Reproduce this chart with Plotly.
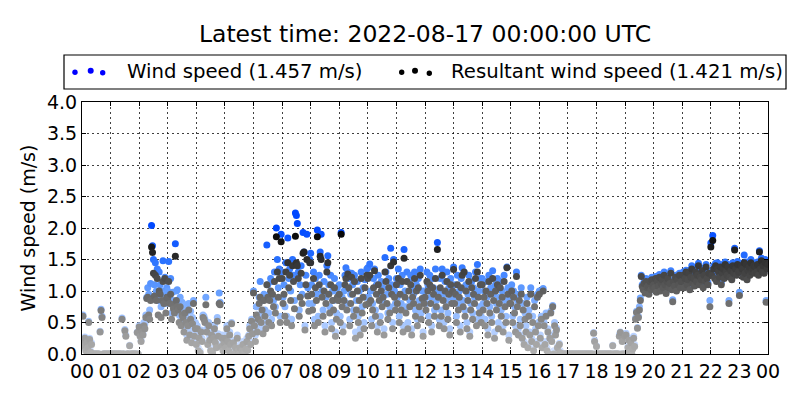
import pandas as pd
import plotly.graph_objects as go

# ---- data: 2-minute samples, one list of 30 values per hour (2022-08-16) ----
ws00 = [0.22, 0.62, 0.15, 0.27, 0.08, 0.20, 0.12, 0.52, 0.25, 0.05, 0.18, 0.0, 0.0, 0.0, 0.0, 0.0, 0.0, 0.0, 0.0, 0.36, 0.71, 0.60, 0.0, 0.0, 0.0, 0.0, 0.0, 0.0, 0.0, 0.0]
rs00 = [0.20, 0.60, 0.12, 0.25, 0.05, 0.18, 0.10, 0.50, 0.23, 0.03, 0.15, 0.0, 0.0, 0.0, 0.0, 0.0, 0.0, 0.0, 0.0, 0.35, 0.69, 0.58, 0.0, 0.0, 0.0, 0.0, 0.0, 0.0, 0.0, 0.0]
ws01 = [0.0, 0.0, 0.0, 0.0, 0.0, 0.0, 0.0, 0.0, 0.0, 0.0, 0.0, 0.0, 0.57, 0.0, 0.0, 0.39, 0.30, 0.0, 0.0, 0.0, 0.14, 0.0, 0.0, 0.0, 0.0, 0.0, 0.0, 0.0, 0.35, 0.0]
rs01 = [0.0, 0.0, 0.0, 0.0, 0.0, 0.0, 0.0, 0.0, 0.0, 0.0, 0.0, 0.0, 0.55, 0.0, 0.0, 0.37, 0.28, 0.0, 0.0, 0.0, 0.13, 0.0, 0.0, 0.0, 0.0, 0.0, 0.0, 0.0, 0.34, 0.0]
ws02 = [0.45, 0.30, 0.22, 0.38, 0.32, 0.50, 0.48, 0.62, 0.90, 1.05, 0.95, 0.70, 1.12, 2.04, 1.72, 1.50, 1.10, 1.45, 1.00, 1.35, 0.85, 1.30, 1.10, 0.75, 1.00, 1.48, 0.95, 1.22, 0.80, 1.05]
rs02 = [0.43, 0.28, 0.20, 0.35, 0.30, 0.45, 0.40, 0.58, 0.88, 0.90, 0.62, 0.55, 0.85, 1.70, 1.61, 1.28, 0.92, 1.25, 0.85, 1.20, 0.62, 1.00, 0.95, 0.58, 0.85, 1.15, 0.80, 1.20, 0.65, 0.90]
ws03 = [1.00, 1.47, 0.90, 1.20, 0.65, 0.98, 0.85, 0.75, 1.75, 1.00, 1.02, 0.85, 0.62, 0.90, 0.55, 0.82, 0.70, 0.45, 0.78, 0.62, 0.30, 0.55, 0.80, 0.40, 0.68, 0.25, 0.58, 0.85, 0.35, 0.50]
rs03 = [0.88, 1.15, 0.80, 0.95, 0.55, 0.78, 0.72, 0.65, 1.55, 0.85, 0.75, 0.70, 0.50, 0.75, 0.45, 0.62, 0.58, 0.35, 0.65, 0.50, 0.22, 0.45, 0.70, 0.30, 0.55, 0.18, 0.48, 0.80, 0.28, 0.40]
ws04 = [0.20, 0.45, 0.10, 0.30, 0.05, 0.38, 0.25, 0.62, 0.60, 0.55, 0.90, 0.40, 0.18, 0.50, 0.28, 0.10, 0.35, 0.05, 0.30, 0.45, 0.20, 0.12, 0.58, 0.32, 0.97, 0.82, 0.15, 0.30, 0.08, 0.22]
rs04 = [0.15, 0.40, 0.05, 0.25, 0.02, 0.35, 0.20, 0.58, 0.55, 0.50, 0.78, 0.35, 0.15, 0.45, 0.22, 0.05, 0.30, 0.02, 0.25, 0.40, 0.18, 0.10, 0.52, 0.28, 0.80, 0.78, 0.12, 0.25, 0.05, 0.18]
ws05 = [0.30, 0.15, 0.45, 0.25, 0.10, 0.35, 0.20, 0.50, 0.05, 0.22, 0.0, 0.12, 0.05, 0.30, 0.10, 0.0, 0.15, 0.0, 0.08, 0.20, 0.05, 0.0, 0.12, 0.25, 0.10, 0.30, 0.45, 0.20, 0.55, 0.35]
rs05 = [0.25, 0.10, 0.40, 0.20, 0.05, 0.30, 0.15, 0.48, 0.0, 0.18, 0.0, 0.10, 0.0, 0.25, 0.05, 0.0, 0.10, 0.0, 0.05, 0.15, 0.02, 0.0, 0.08, 0.20, 0.06, 0.28, 0.40, 0.15, 0.52, 0.32]
ws06 = [1.00, 0.55, 0.30, 0.75, 0.45, 0.62, 0.90, 1.15, 0.60, 0.85, 0.40, 0.95, 0.70, 0.50, 1.73, 1.10, 0.65, 0.95, 1.20, 0.55, 1.15, 0.85, 1.30, 0.75, 2.00, 1.50, 1.05, 1.35, 0.60, 1.90]
rs06 = [0.97, 0.45, 0.20, 0.62, 0.35, 0.55, 0.80, 0.90, 0.50, 0.70, 0.32, 0.85, 0.60, 0.40, 1.10, 0.90, 0.50, 0.85, 1.00, 0.45, 0.95, 0.75, 1.15, 0.65, 1.86, 1.30, 0.90, 1.20, 0.50, 1.78]
ws07 = [1.30, 0.90, 1.10, 0.75, 1.45, 0.60, 1.84, 1.20, 1.35, 1.00, 0.55, 1.50, 1.25, 0.85, 2.24, 2.20, 2.07, 1.30, 0.70, 1.10, 1.40, 0.95, 1.93, 1.62, 0.45, 1.25, 1.90, 1.05, 0.80, 1.50]
rs07 = [1.20, 0.80, 0.95, 0.60, 1.30, 0.50, 1.45, 1.05, 1.25, 0.85, 0.45, 1.40, 1.15, 0.72, 1.87, 1.45, 1.40, 1.20, 0.60, 0.90, 1.28, 0.80, 1.60, 1.62, 0.38, 1.10, 1.50, 0.92, 0.68, 1.45]
ws08 = [1.60, 1.10, 0.80, 1.30, 0.55, 1.20, 0.95, 1.97, 0.60, 1.25, 1.62, 1.90, 1.00, 0.70, 1.15, 0.45, 0.90, 1.40, 1.56, 1.10, 0.75, 1.25, 0.50, 1.00, 0.85, 1.20, 0.35, 0.65, 1.05, 0.95]
rs08 = [1.45, 0.95, 0.70, 1.20, 0.45, 1.05, 0.85, 1.86, 0.50, 1.10, 1.55, 1.50, 0.90, 0.60, 1.00, 0.35, 0.80, 1.30, 1.45, 0.95, 0.65, 1.10, 0.40, 0.85, 0.70, 1.05, 0.28, 0.55, 0.90, 0.85]
ws09 = [1.10, 0.60, 1.93, 0.90, 0.45, 1.00, 1.25, 1.37, 0.80, 1.30, 1.20, 0.55, 0.95, 1.28, 1.10, 0.70, 1.25, 0.35, 0.85, 1.15, 0.60, 1.00, 0.40, 1.30, 0.75, 1.05, 0.50, 1.18, 0.90, 1.35]
rs09 = [0.95, 0.50, 1.90, 0.75, 0.35, 0.85, 1.10, 1.20, 0.70, 1.27, 1.05, 0.45, 0.80, 1.22, 0.95, 0.60, 1.15, 0.25, 0.70, 1.00, 0.50, 0.85, 0.30, 1.20, 0.65, 0.90, 0.40, 1.05, 0.78, 1.25]
ws10 = [1.37, 0.90, 1.43, 1.00, 0.55, 0.80, 1.20, 1.35, 0.70, 1.10, 0.45, 1.25, 0.95, 0.60, 1.15, 0.85, 1.05, 0.40, 1.53, 1.30, 0.95, 0.65, 1.20, 0.75, 1.68, 1.10, 0.50, 1.50, 1.00, 0.80]
rs10 = [1.20, 0.80, 1.25, 0.85, 0.45, 0.70, 1.05, 1.32, 0.60, 0.95, 0.35, 1.10, 0.85, 0.50, 1.00, 0.75, 0.90, 0.30, 1.30, 1.15, 0.80, 0.55, 1.05, 0.65, 1.40, 0.95, 0.40, 1.46, 0.90, 0.70]
ws11 = [1.20, 0.90, 1.35, 0.60, 1.10, 0.80, 1.25, 0.45, 1.66, 1.00, 0.75, 1.30, 0.50, 1.15, 0.85, 1.25, 0.40, 1.05, 0.95, 1.30, 0.70, 1.10, 0.55, 1.20, 0.85, 1.35, 0.65, 1.00, 0.35, 0.90]
rs11 = [1.10, 0.80, 1.20, 0.50, 0.95, 0.70, 1.15, 0.35, 1.52, 0.90, 0.65, 1.15, 0.40, 1.00, 0.75, 1.10, 0.30, 0.90, 0.80, 1.20, 0.60, 1.00, 0.45, 1.05, 0.75, 1.25, 0.55, 0.88, 0.28, 0.80]
ws12 = [1.00, 0.80, 1.30, 1.10, 0.60, 1.25, 0.90, 0.45, 1.20, 1.05, 0.70, 1.35, 0.85, 1.77, 1.00, 0.55, 1.20, 0.70, 1.35, 0.95, 0.50, 1.15, 0.85, 1.30, 0.65, 1.05, 0.40, 1.20, 0.90, 1.10]
rs12 = [0.90, 0.70, 1.15, 1.00, 0.50, 1.10, 0.80, 0.35, 1.05, 0.95, 0.60, 1.20, 0.75, 1.66, 0.90, 0.45, 1.05, 0.60, 1.25, 0.85, 0.40, 1.00, 0.75, 1.15, 0.55, 0.95, 0.30, 1.10, 0.80, 1.00]
ws13 = [1.38, 0.90, 1.10, 0.60, 1.25, 0.80, 1.00, 0.45, 1.20, 1.37, 0.85, 1.30, 0.70, 1.10, 0.50, 0.95, 1.25, 0.35, 0.80, 1.15, 0.65, 1.05, 0.90, 1.30, 0.55, 1.42, 1.00, 0.75, 1.20, 0.60]
rs13 = [1.34, 0.80, 0.95, 0.50, 1.10, 0.70, 0.90, 0.35, 1.05, 1.25, 0.75, 1.30, 0.60, 1.00, 0.40, 0.85, 1.15, 0.28, 0.70, 1.05, 0.55, 0.95, 0.80, 1.20, 0.45, 1.30, 0.90, 0.65, 1.10, 0.50]
ws14 = [1.20, 0.80, 1.00, 0.55, 1.15, 0.90, 0.40, 1.25, 0.75, 1.05, 0.60, 1.32, 0.95, 0.35, 1.10, 0.80, 1.20, 0.50, 0.90, 1.15, 0.70, 1.00, 0.45, 1.25, 0.85, 0.60, 1.38, 1.05, 0.30, 0.90]
rs14 = [1.10, 0.70, 0.90, 0.45, 1.00, 0.80, 0.30, 1.15, 0.65, 0.95, 0.50, 1.20, 0.85, 0.25, 1.00, 0.70, 1.10, 0.40, 0.80, 1.05, 0.60, 0.90, 0.35, 1.15, 0.75, 0.50, 1.37, 0.95, 0.22, 0.80]
ws15 = [0.90, 1.10, 0.60, 1.00, 0.75, 0.45, 1.30, 0.85, 0.40, 0.95, 0.55, 1.05, 0.30, 0.80, 0.20, 0.65, 0.45, 0.90, 0.15, 0.70, 0.35, 1.05, 0.25, 0.60, 0.10, 0.85, 0.40, 0.20, 0.95, 0.50]
rs15 = [0.80, 1.00, 0.50, 0.90, 0.65, 0.35, 1.23, 0.75, 0.30, 0.85, 0.45, 0.95, 0.25, 0.70, 0.15, 0.55, 0.35, 0.80, 0.10, 0.60, 0.30, 0.95, 0.20, 0.50, 0.05, 0.75, 0.35, 0.15, 0.90, 0.45]
ws16 = [1.00, 0.30, 0.60, 0.15, 1.04, 0.50, 0.20, 0.65, 0.10, 0.40, 0.0, 0.30, 0.68, 0.25, 0.77, 0.05, 0.50, 0.35, 0.41, 0.12, 0.0, 0.17, 0.05, 0.0, 0.0, 0.0, 0.0, 0.0, 0.0, 0.0]
rs16 = [0.95, 0.25, 0.55, 0.10, 1.00, 0.45, 0.15, 0.60, 0.05, 0.35, 0.0, 0.25, 0.65, 0.20, 0.75, 0.0, 0.45, 0.30, 0.38, 0.10, 0.0, 0.15, 0.02, 0.0, 0.0, 0.0, 0.0, 0.0, 0.0, 0.0]
ws17 = [0.0, 0.0, 0.0, 0.0, 0.0, 0.0, 0.0, 0.0, 0.0, 0.0, 0.0, 0.0, 0.0, 0.0, 0.0, 0.0, 0.0, 0.0, 0.0, 0.0, 0.0, 0.0, 0.0, 0.0, 0.0, 0.0, 0.0, 0.34, 0.22, 0.0]
rs17 = [0.0, 0.0, 0.0, 0.0, 0.0, 0.0, 0.0, 0.0, 0.0, 0.0, 0.0, 0.0, 0.0, 0.0, 0.0, 0.0, 0.0, 0.0, 0.0, 0.0, 0.0, 0.0, 0.0, 0.0, 0.0, 0.0, 0.0, 0.33, 0.20, 0.0]
ws18 = [0.13, 0.0, 0.0, 0.0, 0.0, 0.0, 0.0, 0.0, 0.0, 0.0, 0.0, 0.0, 0.0, 0.0, 0.0, 0.0, 0.0, 0.14, 0.0, 0.0, 0.0, 0.0, 0.0, 0.0, 0.30, 0.35, 0.0, 0.22, 0.0, 0.0]
rs18 = [0.12, 0.0, 0.0, 0.0, 0.0, 0.0, 0.0, 0.0, 0.0, 0.0, 0.0, 0.0, 0.0, 0.0, 0.0, 0.0, 0.0, 0.13, 0.0, 0.0, 0.0, 0.0, 0.0, 0.0, 0.28, 0.34, 0.0, 0.20, 0.0, 0.0]
ws19 = [0.30, 0.33, 0.0, 0.12, 0.25, 0.05, 0.20, 0.0, 0.10, 0.28, 0.15, 0.57, 0.68, 0.42, 0.60, 0.75, 0.89, 1.25, 1.10, 1.05, 1.15, 1.00, 1.20, 1.08, 1.12, 0.98, 1.18, 1.05, 1.22, 1.10]
rs19 = [0.28, 0.30, 0.0, 0.10, 0.22, 0.03, 0.18, 0.0, 0.08, 0.25, 0.12, 0.55, 0.66, 0.41, 0.58, 0.70, 0.85, 1.23, 1.07, 1.02, 1.12, 0.97, 1.15, 1.05, 1.08, 0.95, 1.15, 1.02, 1.18, 1.07]
ws20 = [1.13, 1.08, 1.23, 1.01, 1.18, 1.10, 1.26, 1.03, 1.15, 1.20, 1.08, 1.30, 1.13, 0.99, 1.18, 1.25, 1.08, 1.15, 1.32, 1.05, 0.86, 1.18, 1.11, 1.25, 1.03, 1.21, 1.13, 1.28, 1.08, 1.18]
rs20 = [1.10, 1.05, 1.20, 0.98, 1.15, 1.08, 1.22, 1.00, 1.12, 1.18, 1.05, 1.25, 1.10, 0.96, 1.15, 1.20, 1.05, 1.12, 1.28, 1.02, 0.83, 1.15, 1.08, 1.22, 1.00, 1.18, 1.10, 1.25, 1.05, 1.15]
ws21 = [1.18, 1.30, 1.08, 1.24, 1.33, 1.13, 1.22, 1.32, 1.05, 1.26, 1.40, 1.15, 1.23, 1.11, 1.35, 1.18, 1.28, 1.44, 1.13, 1.25, 1.21, 1.36, 1.08, 1.28, 1.18, 1.42, 1.23, 1.13, 1.32, 0.85]
rs21 = [1.15, 1.25, 1.05, 1.20, 1.30, 1.10, 1.18, 1.28, 1.02, 1.22, 1.35, 1.12, 1.20, 1.08, 1.30, 1.15, 1.25, 1.40, 1.10, 1.22, 1.18, 1.32, 1.05, 1.25, 1.15, 1.38, 1.20, 1.10, 1.28, 0.75]
ws22 = [1.76, 1.30, 1.88, 1.40, 1.24, 1.44, 1.18, 1.45, 1.34, 1.26, 1.42, 1.14, 1.32, 1.38, 1.24, 1.46, 1.34, 1.29, 1.42, 0.85, 1.26, 1.36, 1.22, 1.45, 1.32, 1.68, 1.39, 1.29, 1.47, 1.34]
rs22 = [1.70, 1.25, 1.80, 1.35, 1.20, 1.40, 1.15, 1.35, 1.30, 1.22, 1.38, 1.10, 1.28, 1.35, 1.20, 1.42, 1.30, 1.25, 1.38, 0.80, 1.22, 1.32, 1.18, 1.40, 1.28, 1.65, 1.35, 1.25, 1.42, 1.30]
ws23 = [0.98, 1.34, 1.44, 1.39, 1.25, 1.57, 1.32, 1.46, 1.22, 1.36, 1.42, 1.28, 1.50, 1.33, 1.39, 1.45, 1.32, 1.42, 1.34, 1.46, 1.29, 1.64, 1.39, 1.52, 1.34, 1.44, 1.32, 1.50, 0.85, 1.39]
rs23 = [0.93, 1.30, 1.40, 1.35, 1.22, 1.45, 1.28, 1.42, 1.18, 1.32, 1.38, 1.25, 1.45, 1.30, 1.35, 1.40, 1.28, 1.38, 1.30, 1.42, 1.25, 1.62, 1.35, 1.48, 1.30, 1.40, 1.28, 1.45, 0.82, 1.35]
ws_last = [1.457]   # 2022-08-17 00:00 (latest)
rs_last = [1.421]

wind_speed = (ws00 + ws01 + ws02 + ws03 + ws04 + ws05 + ws06 + ws07 + ws08 + ws09 + ws10 + ws11
              + ws12 + ws13 + ws14 + ws15 + ws16 + ws17 + ws18 + ws19 + ws20 + ws21 + ws22 + ws23 + ws_last)
resultant = (rs00 + rs01 + rs02 + rs03 + rs04 + rs05 + rs06 + rs07 + rs08 + rs09 + rs10 + rs11
             + rs12 + rs13 + rs14 + rs15 + rs16 + rs17 + rs18 + rs19 + rs20 + rs21 + rs22 + rs23 + rs_last)
times = pd.date_range("2022-08-16 00:00", periods=len(wind_speed), freq="2min")

title_text = "Latest time: 2022-08-17 00:00:00 UTC"
ws_label = f"Wind speed ({wind_speed[-1]:.3f} m/s)"
rs_label = f"Resultant wind speed ({resultant[-1]:.3f} m/s)"
tick_vals = pd.date_range("2022-08-16 00:00", "2022-08-17 00:00", freq="1h")
tick_text = [t.strftime("%H") for t in tick_vals]

FONT = "DejaVu Sans"
blue_scale = [[0, "rgb(215,228,255)"], [0.25, "rgb(165,198,255)"], [0.5, "rgb(100,158,255)"],
              [0.75, "rgb(40,112,255)"], [1, "rgb(0,72,255)"]]
grey_scale = [[0, "rgb(178,178,178)"], [0.25, "rgb(138,138,138)"], [0.5, "rgb(95,95,95)"],
              [0.75, "rgb(45,45,45)"], [1, "rgb(0,0,0)"]]

fig = go.Figure()
fig.add_trace(go.Scatter(x=times, y=wind_speed, mode="markers", showlegend=False,
                         marker=dict(size=7, color=wind_speed, colorscale=blue_scale,
                                     cmin=0, cmax=2.0, line=dict(width=0))))
fig.add_trace(go.Scatter(x=times, y=resultant, mode="markers", showlegend=False,
                         marker=dict(size=7, color=resultant, colorscale=grey_scale,
                                     cmin=0, cmax=2.0, line=dict(width=0))))

# page offset (body margin) and plot-area geometry in page pixels
OFF = 8
FW, FH = 800 - OFF, 400 - OFF
L, R, T, B = 82, 768, 102, 354
W, H = R - L, B - T
def px(x):
    return (x - L) / W
def py(y):
    return (B - y) / H

shapes = [dict(type="rect", xref="paper", yref="paper", x0=px(64), x1=px(786), y0=py(89), y1=py(55),
               line=dict(color="black", width=1.2), fillcolor="white", layer="above")]
for (cx, cy, r, col) in [(75, 72.3, 2.7, "rgb(0,0,255)"), (90.7, 70.7, 3.0, "rgb(0,0,255)"),
                         (102.7, 72.7, 2.7, "rgb(0,0,255)"), (401.7, 72.3, 2.7, "black"),
                         (415, 70.7, 3.0, "black"), (429.3, 73.3, 2.7, "black")]:
    shapes.append(dict(type="circle", xref="paper", yref="paper", x0=px(cx - r), x1=px(cx + r),
                       y0=py(cy + r), y1=py(cy - r), fillcolor=col, line=dict(width=0), layer="above"))

annotations = [
    dict(text=ws_label, xref="paper", yref="paper", x=px(125), y=py(72), xanchor="left", yanchor="middle",
         showarrow=False, font=dict(family=FONT, size=19.7, color="black")),
    dict(text=rs_label, xref="paper", yref="paper", x=px(449), y=py(72), xanchor="left", yanchor="middle",
         showarrow=False, font=dict(family=FONT, size=19.7, color="black")),
]

axis_common = dict(showline=True, linecolor="black", linewidth=1.2, mirror="ticks", ticks="inside",
                   ticklen=4, tickcolor="black", showgrid=True, gridcolor="rgba(0,0,0,0.75)",
                   gridwidth=1, griddash="2px,3px", zeroline=False, automargin=False,
                   tickfont=dict(family=FONT, size=19, color="black"))

fig.update_layout(
    width=FW, height=FH,
    margin=dict(l=L - OFF, r=FW - (R - OFF), t=T - OFF, b=FH - (B - OFF)),
    paper_bgcolor="white", plot_bgcolor="white",
    title=dict(text=title_text, x=px(425), xref="paper", xanchor="center", y=1 - (34 - OFF) / FH,
               yref="container", yanchor="middle", font=dict(family=FONT, size=23.5, color="black")),
    xaxis=dict(range=[tick_vals[0], tick_vals[-1]], tickvals=tick_vals, ticktext=tick_text, **axis_common),
    yaxis=dict(range=[0, 4], dtick=0.5, tickformat=".1f",
               title=dict(text="Wind speed (m/s)", font=dict(family=FONT, size=19, color="black"), standoff=6),
               **axis_common),
    shapes=shapes, annotations=annotations,
    font=dict(family=FONT),
)

fig.write_html("out.html")
